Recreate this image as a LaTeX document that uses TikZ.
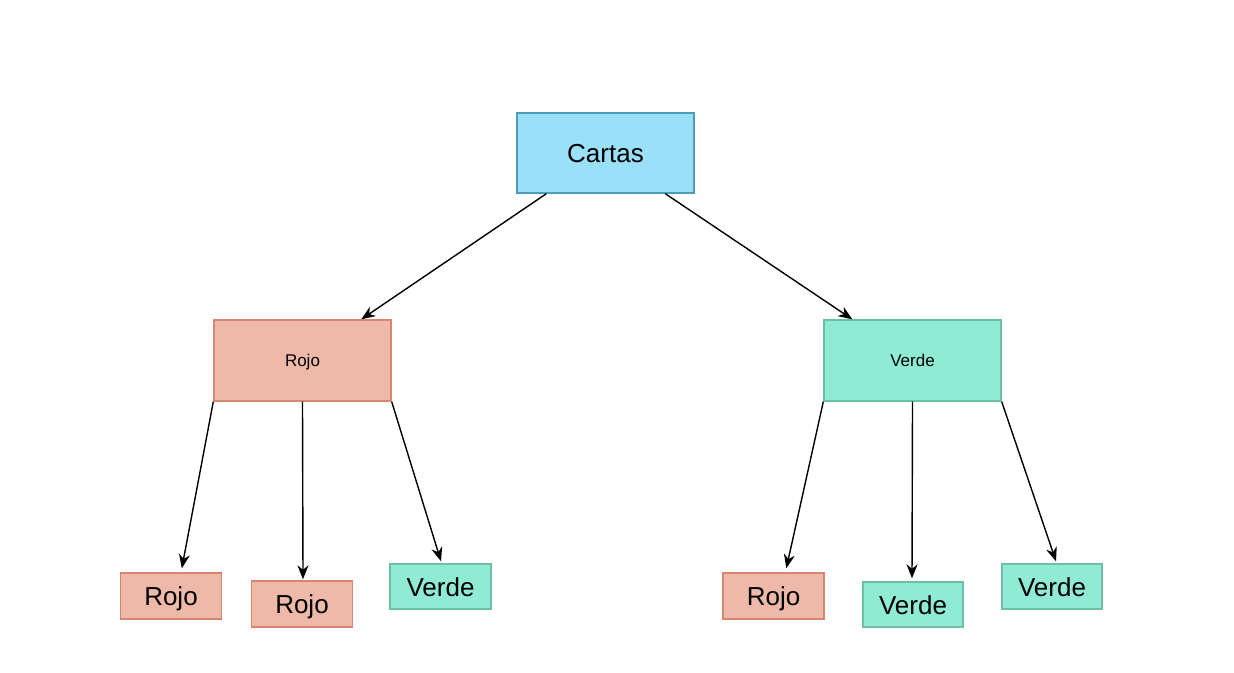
\documentclass[tikz,border=0pt]{standalone}
\usepackage{fontspec}
\setmainfont{Liberation Sans}
\usetikzlibrary{arrows.meta,calc}
\definecolor{blueF}{HTML}{9AE0F8}
\definecolor{blueD}{HTML}{4E9DB8}
\definecolor{redF}{HTML}{EFB9A9}
\definecolor{redD}{HTML}{D98670}
\definecolor{greenF}{HTML}{90EBD5}
\definecolor{greenD}{HTML}{6DBFA6}
\tikzset{
  box/.style={draw, rectangle, inner sep=0pt, line width=1.4pt},
  bluebox/.style={box, fill=blueF, draw=blueD},
  redbox/.style={box, fill=redF, draw=redD},
  greenbox/.style={box, fill=greenF, draw=greenD},
  bigbox/.style={minimum width=177pt, minimum height=80pt},
  smallbox/.style={minimum width=101pt, minimum height=46pt},
  bigtext/.style={font=\fontsize{26}{30}\selectfont, text height=24.7pt, text depth=5.5pt},
  smalltext/.style={font=\fontsize{17}{20}\selectfont, text height=16.2pt, text depth=3.6pt},
  arr/.style={draw=black, line width=1.4pt, -{Stealth[length=14pt,width=11pt,inset=4.5pt]}}
}
\begin{document}
\begin{tikzpicture}[x=1pt,y=-1pt]
\useasboundingbox (0,0) rectangle (1234,672);
\node[bluebox,bigbox,bigtext] (cartas) at (605.5,153) {Cartas};
\node[redbox,bigbox,minimum height=81pt,smalltext] (rojo) at (302.5,360.5) {Rojo};
\node[greenbox,bigbox,minimum height=81pt,smalltext] (verde) at (912.5,360.5) {Verde};
\node[redbox,smallbox,bigtext] (r1) at (171,596) {Rojo};
\node[redbox,smallbox,bigtext] (r2) at (302,604) {Rojo};
\node[greenbox,smallbox,minimum height=45pt,bigtext] (v1) at (440.5,586.5) {Verde};
\node[redbox,smallbox,bigtext] (r3) at (773.5,596) {Rojo};
\node[greenbox,smallbox,minimum width=100pt,minimum height=45pt,bigtext] (v2) at (913,604.5) {Verde};
\node[greenbox,smallbox,minimum width=100pt,minimum height=45pt,bigtext] (v3) at (1052,586.5) {Verde};
\draw[arr] ($(cartas.south west)+(30,0)$) -- ($(rojo.north west)+(148,0)$);
\draw[arr] ($(cartas.south west)+(149,0)$) -- ($(verde.north west)+(29,0)$);
\draw[arr] (rojo.south west) -- ($(r1.north west)+(62,-4)$);
\draw[arr] (rojo.south) -- ($(r2.north)+(1,-1)$);
\draw[arr] (rojo.south east) -- ($(v1.north)+(0.5,-2)$);
\draw[arr] (verde.south west) -- ($(r3.north west)+(64,-4)$);
\draw[arr] (verde.south) -- ($(v2.north)+(-1,-3)$);
\draw[arr] (verde.south east) -- ($(v3.north)+(4,-2)$);
\end{tikzpicture}
\end{document}
